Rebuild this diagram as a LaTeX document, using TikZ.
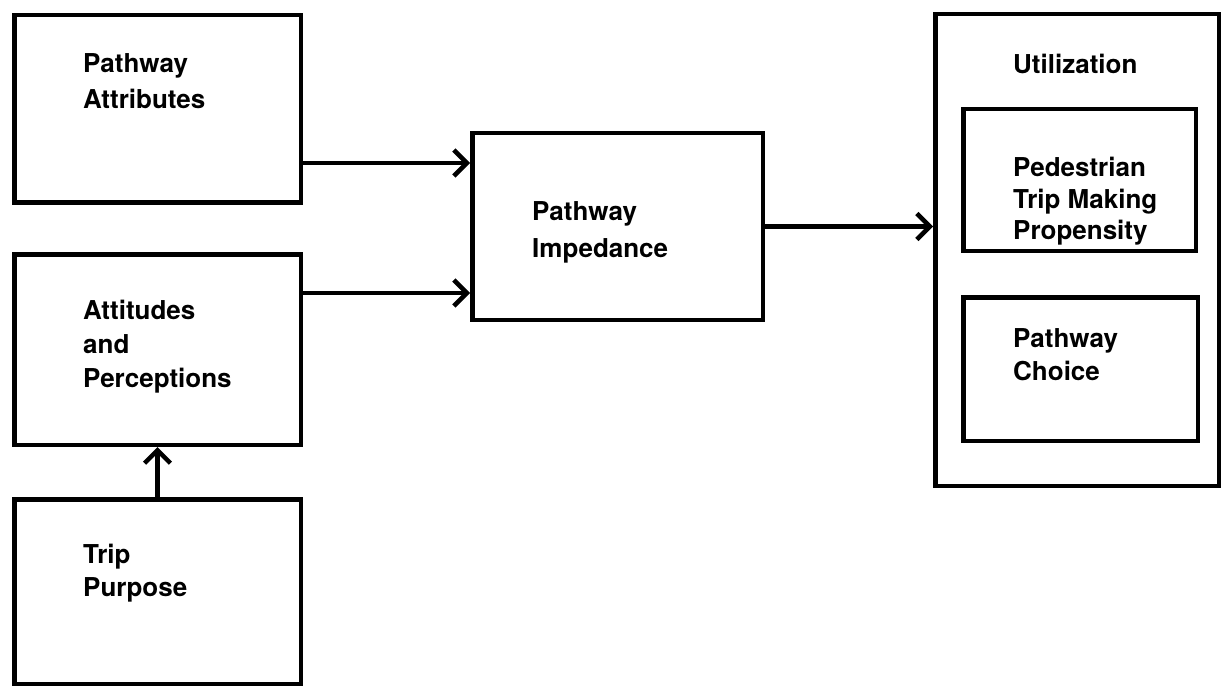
\documentclass[tikz,border=0pt]{standalone}
\usepackage{fontspec}
\setmainfont{TeX Gyre Heros}
\usetikzlibrary{arrows.meta}
\begin{document}
\begin{tikzpicture}[x=1pt,y=-1pt,
  box/.style={draw, line width=4.5pt, inner sep=0pt, anchor=north west},
  lbl/.style={anchor=base west, align=left, inner sep=0pt, font=\bfseries\fontsize{26}{35}\selectfont},
  arr/.style={line width=4.5pt, -{Straight Barb[length=13pt,width=26pt]}}]
\useasboundingbox (0,0) rectangle (1223,687);
% boxes
\node[box, minimum width=286.5pt, minimum height=187.5pt] (pa) at (12,13) {};
\node[box, minimum width=286.5pt, minimum height=190.5pt] (ap) at (12,252) {};
\node[box, minimum width=286.5pt, minimum height=184.5pt] (tp) at (12,497) {};
\node[box, minimum width=290.5pt, minimum height=186.5pt] (imp) at (470,131) {};
\node[box, minimum width=283.5pt, minimum height=471.5pt] (util) at (933,12) {};
\node[box, minimum width=232.5pt, minimum height=141.5pt] (ped) at (961,107) {};
\node[box, minimum width=234.5pt, minimum height=143.5pt] (pc) at (961,295) {};
% labels (anchored at the baseline of the last line)
\node[lbl, font=\bfseries\fontsize{26}{36}\selectfont] (tpa) at (83,109) {Pathway\\Attributes};
\node[lbl, font=\bfseries\fontsize{26}{34}\selectfont] (tap) at (83,387) {Attitudes\\and\\Perceptions};
\node[lbl, font=\bfseries\fontsize{26}{33}\selectfont] (ttp) at (83,596) {Trip\\Purpose};
\node[lbl, font=\bfseries\fontsize{26}{36}\selectfont] (timp) at (532,257) {Pathway\\Impedance};
\node[lbl] (tutil) at (1013,74) {Utilization};
\node[lbl, font=\bfseries\fontsize{26}{31.5}\selectfont] (tped) at (1013,240) {Pedestrian\\Trip Making\\Propensity};
\node[lbl, font=\bfseries\fontsize{26}{33}\selectfont] (tpc) at (1013,380) {Pathway\\Choice};
% connectors
\draw[arr] (pa.east |- 0,163) -- (imp.west |- 0,163);
\draw[arr] (ap.east |- 0,293) -- (imp.west |- 0,293);
\draw[arr] (imp.east) -- (imp.east -| util.west);
\draw[arr] (tp.north) -- (ap.south);
\end{tikzpicture}
\end{document}
